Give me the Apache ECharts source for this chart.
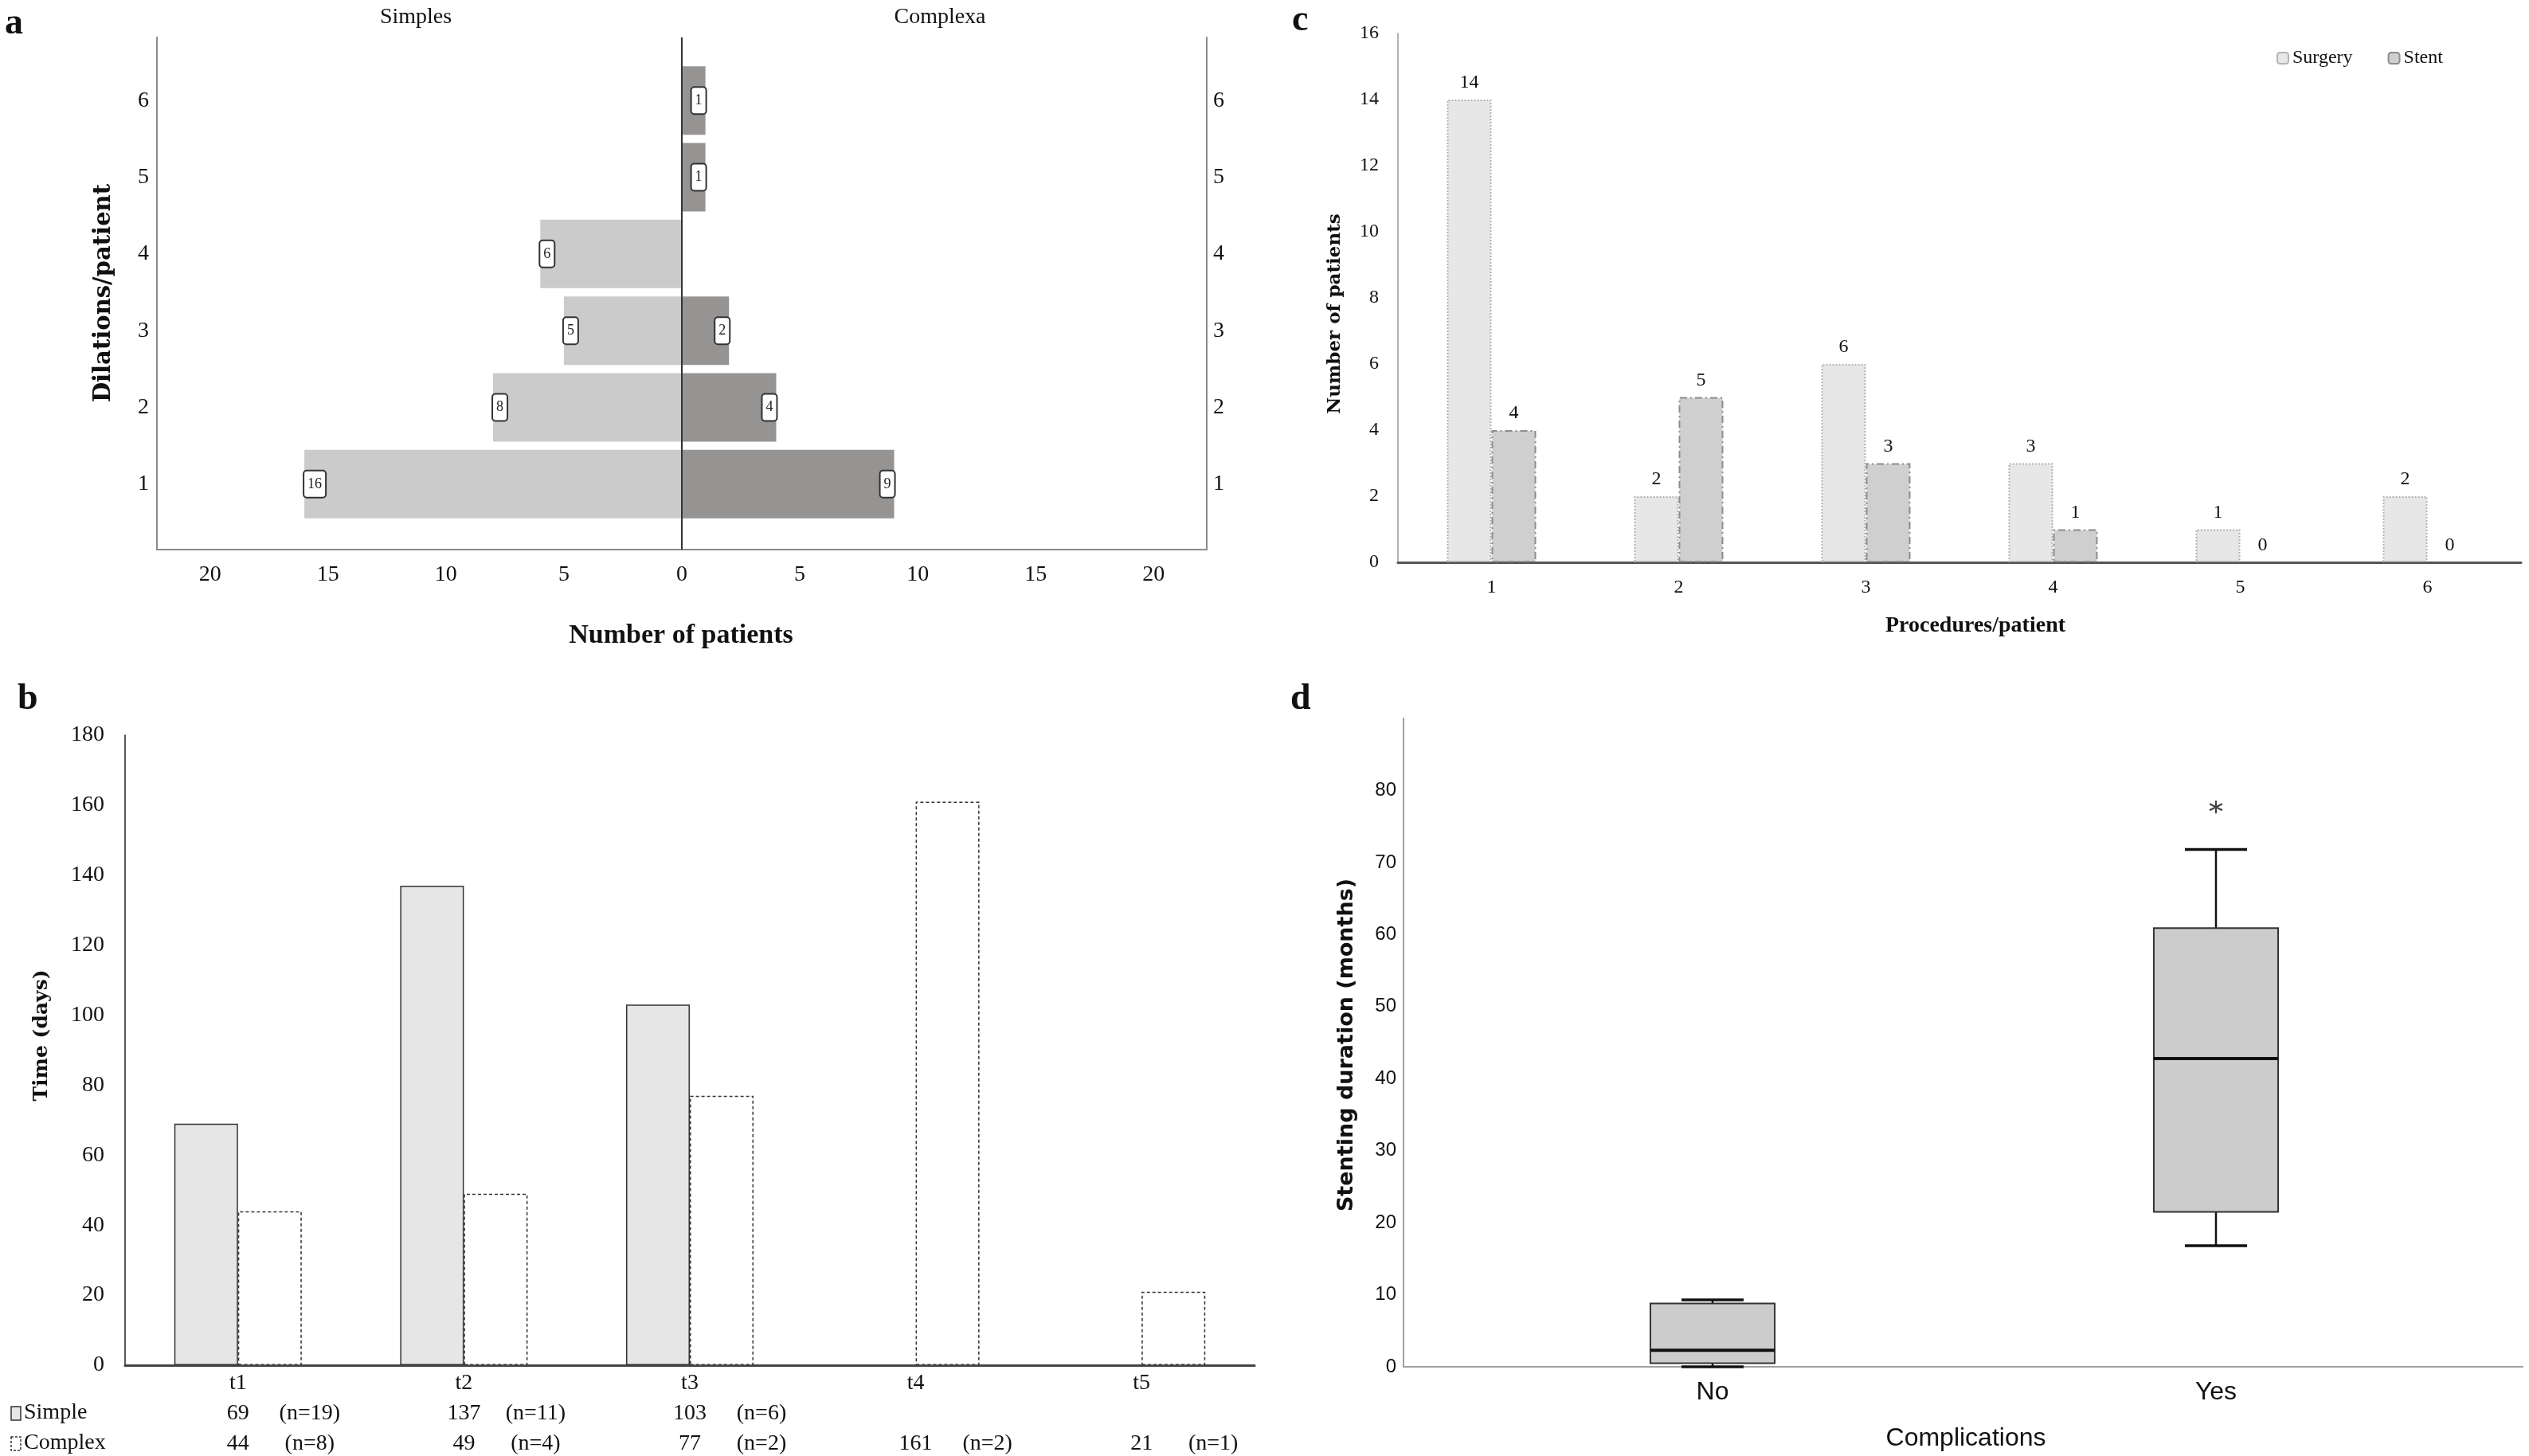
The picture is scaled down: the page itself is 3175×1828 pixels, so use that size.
<!DOCTYPE html>
<html><head><meta charset="utf-8">
<script src="https://cdn.jsdelivr.net/npm/echarts@6/dist/echarts.min.js"></script>
<style>html,body{margin:0;padding:0;background:#fff}#c{width:3175px;height:1828px}</style>
</head><body><div id="c"></div>
<script>
// ---- panel a ----
const dilationCats = ['1','2','3','4','5','6'];
const simpleDilations = [16, 8, 5, 6, 0, 0];
const complexDilations = [9, 4, 2, 0, 1, 1];
const patientTicks = [-20, -15, -10, -5, 0, 5, 10, 15, 20];
// ---- panel c ----
const procedureCats = ['1','2','3','4','5','6'];
const surgeryCounts = [14, 2, 6, 3, 1, 2];
const stentCounts = [4, 5, 3, 1, 0, 0];
// ---- panel b ----
const timeCats = ['t1','t2','t3','t4','t5'];
const simpleTimes = [69, 137, 103, null, null];
const complexTimes = [44, 49, 77, 161, 21];
const simpleN = [19, 11, 6, null, null];
const complexN = [8, 4, 2, 2, 1];
// ---- panel d ----
const complicationCats = ['No','Yes'];
// [min, Q1, median, Q3, max]
const boxNo = [0, 0.5, 2.3, 8.8, 9.3];
const boxYes = [16.8, 21.5, 42.8, 60.9, 71.8];
const outlierYes = [77.7];

const SERIF = "'Liberation Serif', 'Times New Roman', serif";
const WSERIF = "'DejaVu Serif', serif";
const NARROW = "'Liberation Sans Narrow', 'Liberation Sans', sans-serif";
const WSANS = "'DejaVu Sans', sans-serif";
const INK = '#111';

const chart = echarts.init(document.getElementById('c'), null, {renderer: 'canvas'});

function txt(text, x, y, font, opts) {
  opts = opts || {};
  return {type: 'text', x: x, y: y, rotation: opts.rot || 0, silent: true,
    style: {text: text, font: font, fill: INK, align: opts.align || 'center', verticalAlign: 'middle'}};
}

const noLine = {show: false};
const hidden = {axisLine: noLine, axisTick: noLine, axisLabel: noLine, splitLine: noLine};

const fmtN = v => (v == null ? '' : '(n=' + v + ')');
const fmtV = v => (v == null ? '' : String(v));

const option = {
  backgroundColor: '#fff',
  animation: false,
  grid: [
    {left: 197, right: 1660, top: 47, bottom: 1138},      // 0 panel a frame
    {left: 197, right: 1660, top: 78, bottom: 1172},      // 1 panel a bars
    {left: 1755, right: 10, top: 42, bottom: 1122},       // 2 panel c
    {left: 157, right: 1600, top: 923, bottom: 114},      // 3 panel b
    {left: 1762, right: 8, top: 902, bottom: 112},        // 4 panel d frame
    {left: 1834, right: 77, top: 902, bottom: 112}        // 5 panel d boxes
  ],
  legend: {
    data: ['Surgery', 'Stent'], left: 2853, top: 56, itemWidth: 14, itemHeight: 14, itemGap: 44,
    textStyle: {fontFamily: SERIF, fontSize: 24, color: INK}
  },
  xAxis: [
    {gridIndex: 0, type: 'value', min: -22.25, max: 22.25,
      axisLine: {onZero: false, lineStyle: {color: '#8a8a8a', width: 2}}, axisTick: noLine, splitLine: noLine,
      axisLabel: {customValues: patientTicks, formatter: v => String(Math.abs(v)), margin: 18,
        fontFamily: SERIF, fontSize: 28, color: INK}},
    {gridIndex: 1, type: 'value', min: -22.25, max: 22.25, ...hidden},
    {gridIndex: 2, type: 'category', data: procedureCats,
      axisLine: {lineStyle: {color: '#555', width: 3}}, axisTick: noLine,
      axisLabel: {interval: 0, margin: 20, fontFamily: SERIF, fontSize: 24, color: INK}},
    {gridIndex: 3, type: 'category', data: timeCats,
      axisLine: {lineStyle: {color: '#444', width: 3}}, axisTick: noLine,
      axisLabel: {interval: 0, hideOverlap: false, margin: 4, fontFamily: SERIF, fontSize: 28, color: INK,
        formatter: (val, idx) => '{t|' + val + '}\n{pad|}{num|' + fmtV(simpleTimes[idx]) + '}{n|' + fmtN(simpleN[idx]) + '}\n{pad|}{num|' + fmtV(complexTimes[idx]) + '}{n|' + fmtN(complexN[idx]) + '}',
        rich: {
          t: {fontFamily: SERIF, fontSize: 28, lineHeight: 38, color: INK},
          pad: {width: 100, lineHeight: 38},
          num: {fontFamily: SERIF, fontSize: 28, lineHeight: 38, width: 80, align: 'center', color: INK},
          n: {fontFamily: SERIF, fontSize: 28, lineHeight: 38, width: 100, align: 'left', color: INK}
        }}},
    {gridIndex: 4, type: 'value', min: 0, max: 1,
      axisLine: {onZero: false, lineStyle: {color: '#a0a0a0', width: 2}}, axisTick: noLine, axisLabel: noLine, splitLine: noLine},
    {gridIndex: 5, type: 'category', data: complicationCats,
      axisLine: noLine, axisTick: noLine,
      axisLabel: {interval: 0, margin: 16, fontFamily: NARROW, fontSize: 32, color: INK}}
  ],
  yAxis: [
    {gridIndex: 0, type: 'value', min: 0, max: 1,
      axisLine: {show: true, onZero: false, lineStyle: {color: '#8a8a8a', width: 2}}, axisTick: noLine, axisLabel: noLine, splitLine: noLine},
    {gridIndex: 0, type: 'value', min: 0, max: 1, position: 'right',
      axisLine: {show: true, onZero: false, lineStyle: {color: '#8a8a8a', width: 2}}, axisTick: noLine, axisLabel: noLine, splitLine: noLine},
    {gridIndex: 1, type: 'category', data: dilationCats, axisLine: {show: false, onZero: false}, axisTick: noLine,
      axisLabel: {interval: 0, margin: 10, fontFamily: SERIF, fontSize: 28, color: INK}},
    {gridIndex: 1, type: 'category', data: dilationCats, position: 'right', axisLine: {show: false, onZero: false}, axisTick: noLine,
      axisLabel: {interval: 0, margin: 8, fontFamily: SERIF, fontSize: 28, color: INK}},
    {gridIndex: 2, type: 'value', min: 0, max: 16, interval: 2,
      axisLine: {show: true, lineStyle: {color: '#999', width: 1.5}}, axisTick: noLine, splitLine: noLine,
      axisLabel: {margin: 24, fontFamily: SERIF, fontSize: 24, color: INK}},
    {gridIndex: 3, type: 'value', min: 0, max: 180, interval: 20,
      axisLine: {show: true, lineStyle: {color: '#222', width: 1.5}}, axisTick: noLine, splitLine: noLine,
      axisLabel: {margin: 26, fontFamily: SERIF, fontSize: 28, color: INK}},
    {gridIndex: 4, type: 'value', min: 0, max: 90, interval: 10,
      axisLine: {show: true, onZero: false, lineStyle: {color: '#a0a0a0', width: 2}}, axisTick: noLine, splitLine: noLine,
      axisLabel: {margin: 9, fontFamily: NARROW, fontSize: 24, color: INK, formatter: v => (v === 90 ? '' : String(v))}},
    {gridIndex: 5, type: 'value', min: 0, max: 90, ...hidden}
  ],
  series: [
    // panel a centre line
    {type: 'scatter', xAxisIndex: 0, yAxisIndex: 0, data: [[0, 0.5]], symbolSize: 0, silent: true,
      markLine: {silent: true, symbol: ['none', 'none'], label: {show: false},
        lineStyle: {color: '#333', width: 2, type: 'solid'}, data: [{xAxis: 0}]}},
    {name: 'Simples', type: 'bar', xAxisIndex: 1, yAxisIndex: 2, barWidth: 86, barGap: '-100%',
      data: simpleDilations.map(v => (v === 0 ? null : -v)),
      itemStyle: {color: '#cbcbcb'},
      label: {show: true, position: 'insideLeft', distance: 0, formatter: p => String(Math.abs(p.value)),
        fontFamily: SERIF, fontSize: 18, color: '#222', backgroundColor: '#fff', borderColor: '#333',
        borderWidth: 2, borderRadius: 3, padding: [7, 4, 7, 4]}},
    {name: 'Complexa', type: 'bar', xAxisIndex: 1, yAxisIndex: 2, barWidth: 86, barGap: '-100%',
      data: complexDilations.map(v => (v === 0 ? null : v)),
      itemStyle: {color: '#969393'},
      label: {show: true, position: 'insideRight', distance: 0,
        fontFamily: SERIF, fontSize: 18, color: '#222', backgroundColor: '#fff', borderColor: '#333',
        borderWidth: 2, borderRadius: 3, padding: [7, 4, 7, 4]}},
    // panel c
    {name: 'Surgery', type: 'bar', xAxisIndex: 2, yAxisIndex: 4, barWidth: 56, barGap: '0%',
      data: surgeryCounts.map(v => (v === 0 ? {value: 0, itemStyle: {borderWidth: 0}} : v)),
      itemStyle: {color: '#e7e7e7', borderColor: '#b3b3b3', borderWidth: 2, borderType: 'dotted'},
      label: {show: true, position: 'top', distance: 9, fontFamily: SERIF, fontSize: 24, color: INK}},
    {name: 'Stent', type: 'bar', xAxisIndex: 2, yAxisIndex: 4, barWidth: 56, barGap: '0%',
      data: stentCounts.map(v => (v === 0 ? {value: 0, itemStyle: {borderWidth: 0}} : v)),
      itemStyle: {color: '#cfcfcf', borderColor: '#8c8c8c', borderWidth: 2, borderType: [9, 4, 2, 4]},
      label: {show: true, position: 'top', distance: 9, fontFamily: SERIF, fontSize: 24, color: INK}},
    // panel b
    {name: 'Simple', type: 'bar', xAxisIndex: 3, yAxisIndex: 5, barWidth: 80, barGap: '0%', data: simpleTimes,
      itemStyle: {color: '#e6e6e6', borderColor: '#333', borderWidth: 1.5}},
    {name: 'Complex', type: 'bar', xAxisIndex: 3, yAxisIndex: 5, barWidth: 80, barGap: '0%', data: complexTimes,
      itemStyle: {color: '#fff', borderColor: '#333', borderWidth: 1.5, borderType: [4, 3]}},
    // panel d frame anchor
    {type: 'scatter', xAxisIndex: 4, yAxisIndex: 6, data: [], symbolSize: 0, silent: true},
    // panel d boxes
    {type: 'custom', xAxisIndex: 5, yAxisIndex: 7, silent: true,
      data: [[0].concat(boxNo), [1].concat(boxYes)],
      encode: {x: 0, y: [1, 2, 3, 4, 5]},
      renderItem: function (params, api) {
        const idx = api.value(0);
        const lo = api.coord([idx, api.value(1)]);
        const q1 = api.coord([idx, api.value(2)]);
        const md = api.coord([idx, api.value(3)]);
        const q3 = api.coord([idx, api.value(4)]);
        const hi = api.coord([idx, api.value(5)]);
        const band = api.size([1, 0])[0];
        const bw = band * 0.247, cw = bw * 0.5, cx = lo[0];
        const ls = (w) => ({stroke: '#111', lineWidth: w, fill: null});
        return {type: 'group', children: [
          {type: 'line', shape: {x1: cx, y1: lo[1], x2: cx, y2: q1[1]}, style: ls(2.5)},
          {type: 'line', shape: {x1: cx, y1: q3[1], x2: cx, y2: hi[1]}, style: ls(2.5)},
          {type: 'line', shape: {x1: cx - cw / 2, y1: lo[1], x2: cx + cw / 2, y2: lo[1]}, style: ls(3.5)},
          {type: 'line', shape: {x1: cx - cw / 2, y1: hi[1], x2: cx + cw / 2, y2: hi[1]}, style: ls(3.5)},
          {type: 'rect', shape: {x: cx - bw / 2, y: q3[1], width: bw, height: q1[1] - q3[1]},
            style: {fill: '#cccccc', stroke: '#333', lineWidth: 2}},
          {type: 'line', shape: {x1: cx - bw / 2, y1: md[1], x2: cx + bw / 2, y2: md[1]}, style: ls(4)}
        ]};
      }},
    {type: 'scatter', xAxisIndex: 5, yAxisIndex: 7, silent: true,
      data: outlierYes.map(v => [1, v]),
      symbol: 'path://M10,0L10,20M1.34,5L18.66,15M1.34,15L18.66,5', symbolSize: 16,
      itemStyle: {color: 'rgba(0,0,0,0)', borderColor: '#111', borderWidth: 2}}
  ],
  graphic: [
    txt('a', 6, 30, 'bold 46px ' + SERIF, {align: 'left'}),
    txt('Simples', 522, 22, '28px ' + SERIF),
    txt('Complexa', 1180, 22, '28px ' + SERIF),
    txt('Dilations/patient', 130, 368, 'bold 29px ' + WSERIF, {rot: Math.PI / 2}),
    txt('Number of patients', 855, 798, 'bold 34px ' + SERIF),
    txt('c', 1622, 26, 'bold 46px ' + SERIF, {align: 'left'}),
    txt('Number of patients', 1676, 394, 'bold 23px ' + WSERIF, {rot: Math.PI / 2}),
    txt('Procedures/patient', 2480, 786, 'bold 28px ' + SERIF),
    txt('b', 22, 878, 'bold 46px ' + SERIF, {align: 'left'}),
    txt('Time (days)', 52, 1300, 'bold 25px ' + WSERIF, {rot: Math.PI / 2}),
    {type: 'rect', x: 14, y: 1766, shape: {width: 12, height: 17}, style: {fill: '#e6e6e6', stroke: '#333', lineWidth: 1.5}},
    txt('Simple', 30, 1774, '28px ' + SERIF, {align: 'left'}),
    {type: 'rect', x: 14, y: 1804, shape: {width: 12, height: 17}, style: {fill: '#fff', stroke: '#333', lineWidth: 1.5, lineDash: [3, 2]}},
    txt('Complex', 30, 1812, '28px ' + SERIF, {align: 'left'}),
    txt('d', 1620, 878, 'bold 46px ' + SERIF, {align: 'left'}),
    txt('Stenting duration (months)', 1691, 1312, 'bold 27px ' + WSANS, {rot: Math.PI / 2}),
    txt('Complications', 2468, 1806, '32px ' + NARROW)
  ]
};
chart.setOption(option);
</script>
</body></html>
